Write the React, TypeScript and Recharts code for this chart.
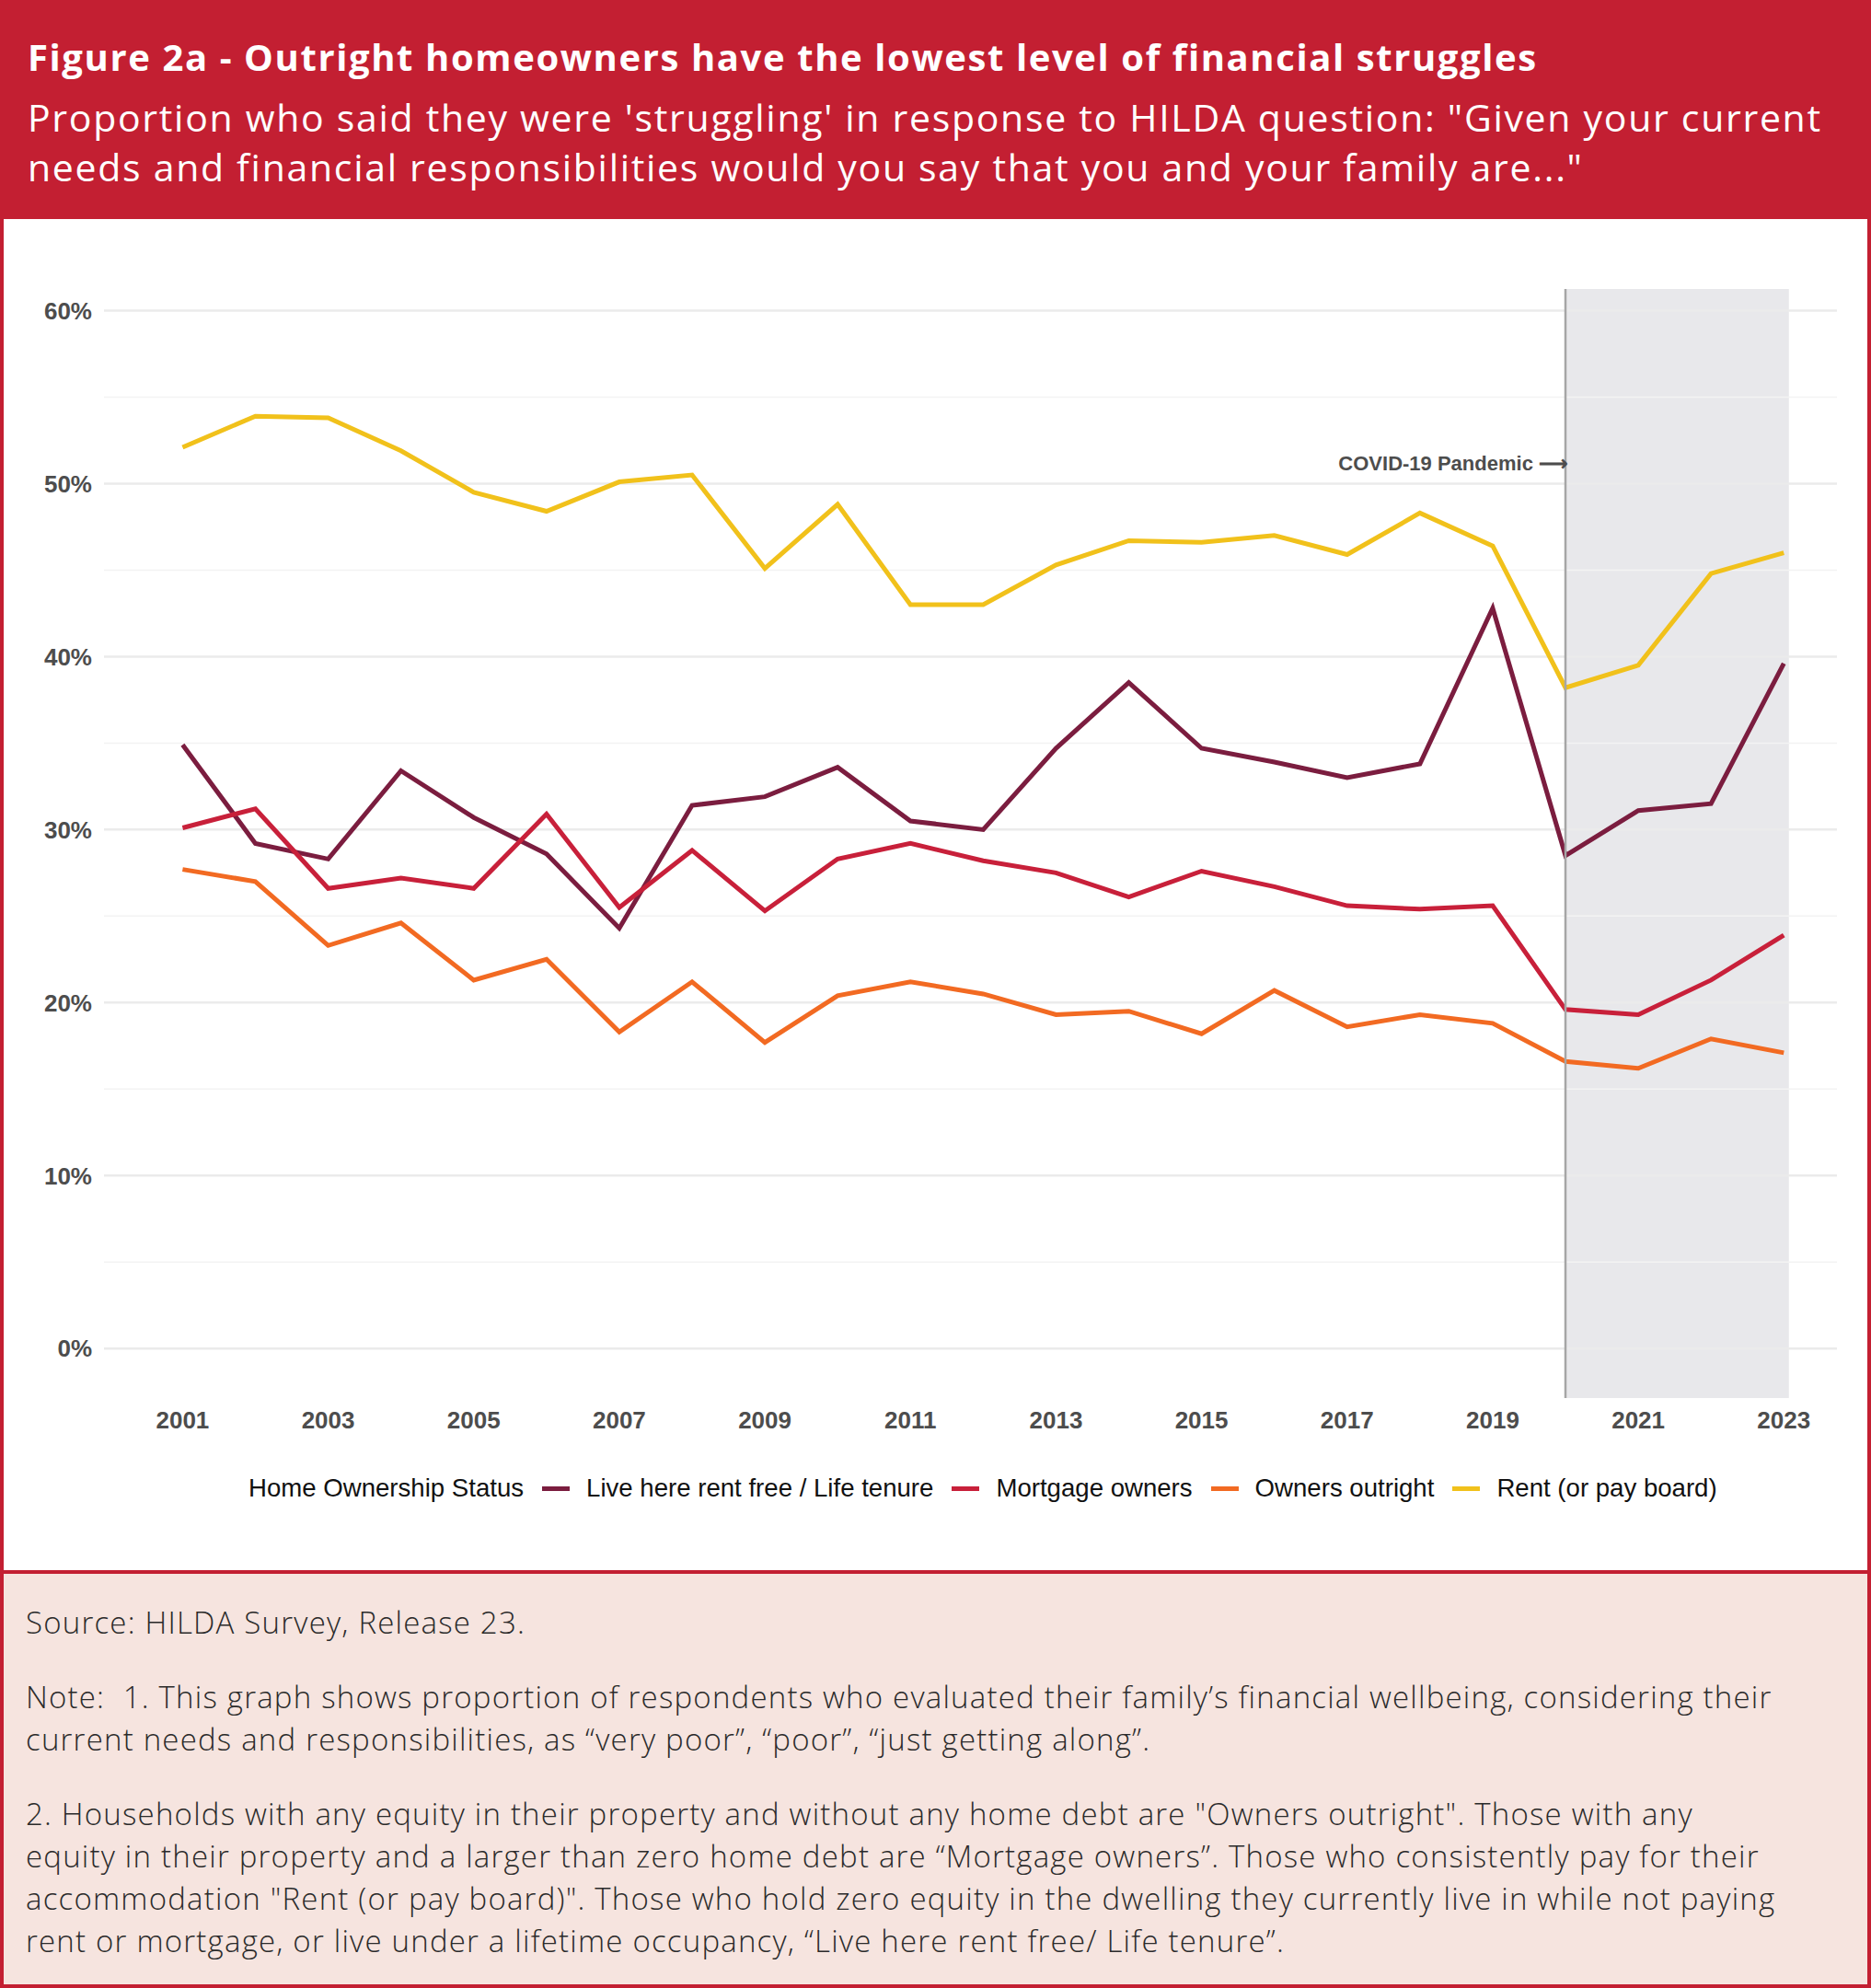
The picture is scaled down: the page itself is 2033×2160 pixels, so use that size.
import { LineChart, Line, XAxis, YAxis, ReferenceArea, ReferenceLine, ReferenceDot } from 'recharts';

const years = [
  2001, 2002, 2003, 2004, 2005, 2006, 2007, 2008, 2009, 2010, 2011, 2012,
  2013, 2014, 2015, 2016, 2017, 2018, 2019, 2020, 2021, 2022, 2023,
];

// % struggling
const rentFree = [34.9, 29.2, 28.3, 33.4, 30.7, 28.6, 24.3, 31.4, 31.9, 33.6, 30.5, 30.0, 34.7, 38.5, 34.7, 33.9, 33.0, 33.8, 42.8, 28.5, 31.1, 31.5, 39.6];
const mortgage = [30.1, 31.2, 26.6, 27.2, 26.6, 30.9, 25.5, 28.8, 25.3, 28.3, 29.2, 28.2, 27.5, 26.1, 27.6, 26.7, 25.6, 25.4, 25.6, 19.6, 19.3, 21.3, 23.9];
const outright = [27.7, 27.0, 23.3, 24.6, 21.3, 22.5, 18.3, 21.2, 17.7, 20.4, 21.2, 20.5, 19.3, 19.5, 18.2, 20.7, 18.6, 19.3, 18.8, 16.6, 16.2, 17.9, 17.1];
const rent = [52.1, 53.9, 53.8, 51.9, 49.5, 48.4, 50.1, 50.5, 45.1, 48.8, 43.0, 43.0, 45.3, 46.7, 46.6, 47.0, 45.9, 48.3, 46.4, 38.2, 39.5, 44.8, 46.0];

const xTicks = [2001, 2003, 2005, 2007, 2009, 2011, 2013, 2015, 2017, 2019, 2021, 2023];
const yTicks = [0, 10, 20, 30, 40, 50, 60];
const yMinor = [5, 15, 25, 35, 45, 55];

const seriesNames = ['Live here rent free / Life tenure', 'Mortgage owners', 'Owners outright', 'Rent (or pay board)'];
const seriesKeys = ['rentFree', 'mortgage', 'outright', 'rent'];
const seriesColors = ['#7b1d3f', '#c8203a', '#f26a22', '#f1c11b'];

const covidStart = 2020;
const covidEnd = 2023.07;
const covidLabelY = 51.2;

const data = years.map((year, i) => ({
  year,
  rentFree: rentFree[i],
  mortgage: mortgage[i],
  outright: outright[i],
  rent: rent[i],
}));

const RED = '#c31f32';
const AXIS_FONT = '"Liberation Sans", Arial, sans-serif';
const TEXT_FONT = '"Open Sans", "Noto Sans", sans-serif';

export default function App() {
  return (
    <div
      style={{
        position: 'absolute',
        left: 0,
        top: 0,
        width: 2033,
        height: 2160,
        boxSizing: 'border-box',
        border: `4px solid ${RED}`,
        borderTop: 'none',
        background: '#fff',
        overflow: 'hidden',
      }}
    >
      {/* header */}
      <div
        style={{
          position: 'absolute',
          left: -4,
          top: 0,
          width: 2033,
          height: 238,
          background: RED,
          color: '#fff',
          fontFamily: TEXT_FONT,
          whiteSpace: 'nowrap',
        }}
      >
        <div style={{ position: 'absolute', left: 30, top: 36, fontSize: 40, lineHeight: '52px', fontWeight: 700, letterSpacing: 1.6 }}>
          Figure 2a - Outright homeowners have the lowest level of financial struggles
        </div>
        <div style={{ position: 'absolute', left: 30, top: 100, fontSize: 41, lineHeight: '54px', fontWeight: 400, letterSpacing: 1.7 }}>
          Proportion who said they were 'struggling' in response to HILDA question: "Given your current
          <br />
          needs and financial responsibilities would you say that you and your family are..."
        </div>
      </div>

      {/* chart */}
      <div style={{ position: 'absolute', left: -4, top: 238 }}>
        <LineChart width={2033} height={1470} data={data} margin={{ top: 76, right: 37, bottom: 139, left: 0 }}>
          {yMinor.map((v) => (
            <ReferenceLine key={`minor-${v}`} y={v} stroke="#f3f3f3" strokeWidth={1.5} />
          ))}
          {yTicks.map((v) => (
            <ReferenceLine key={`major-${v}`} y={v} stroke="#ebebeb" strokeWidth={2.5} />
          ))}
          <XAxis
            dataKey="year"
            type="number"
            domain={[1999.92, 2023.73]}
            ticks={xTicks}
            axisLine={false}
            tickLine={false}
            tickSize={0}
            tickMargin={15}
            height={50}
            tick={{ fill: '#4d4d4d', fontSize: 26, fontWeight: 700, fontFamily: AXIS_FONT }}
          />
          <YAxis
            type="number"
            domain={[-2.86, 61.25]}
            ticks={yTicks}
            tickFormatter={(v) => `${v}%`}
            axisLine={false}
            tickLine={false}
            tickSize={0}
            tickMargin={13}
            width={113}
            tick={{ fill: '#4d4d4d', fontSize: 26, fontWeight: 700, fontFamily: AXIS_FONT }}
          />
          {seriesKeys.map((k, i) => (
            <Line
              key={k}
              dataKey={k}
              name={seriesNames[i]}
              stroke={seriesColors[i]}
              strokeWidth={5}
              dot={false}
              isAnimationActive={false}
            />
          ))}
          <ReferenceArea x1={covidStart} x2={covidEnd} fill="#8e8e99" fillOpacity={0.2} stroke="none" />
          <ReferenceLine x={covidStart} stroke="#a6a6a6" strokeWidth={2.5} />
          <ReferenceDot
            x={covidStart}
            y={covidLabelY}
            r={0}
            fill="none"
            stroke="none"
            label={{
              value: 'COVID-19 Pandemic \u27F6',
              position: 'left',
              offset: -3,
              fill: '#4d4d4d',
              fontSize: 22,
              fontWeight: 700,
              fontFamily: AXIS_FONT,
            }}
          />
        </LineChart>
      </div>

      {/* legend */}
      <div
        style={{
          position: 'absolute',
          left: 266,
          top: 1601,
          height: 32,
          display: 'flex',
          alignItems: 'center',
          fontFamily: AXIS_FONT,
          fontSize: 27.6,
          color: '#111',
          whiteSpace: 'nowrap',
        }}
      >
        <span>Home Ownership Status</span>
        {seriesNames.map((name, i) => (
          <span key={name} style={{ display: 'flex', alignItems: 'center' }}>
            <span style={{ display: 'inline-block', width: 30, height: 5, background: seriesColors[i], marginLeft: 20, marginRight: 18 }} />
            <span>{name}</span>
          </span>
        ))}
      </div>

      {/* footer */}
      <div
        style={{
          position: 'absolute',
          left: -4,
          top: 1706,
          width: 2033,
          height: 460,
          boxSizing: 'border-box',
          borderTop: `4px solid ${RED}`,
          background: '#f6e4df',
          fontFamily: TEXT_FONT,
          fontWeight: 300,
          fontSize: 33,
          letterSpacing: 1.2,
          lineHeight: '46px',
          color: '#2b2b2b',
          whiteSpace: 'nowrap',
        }}
      >
        <div style={{ position: 'absolute', left: 28, top: 30 }}>Source: HILDA Survey, Release 23.</div>
        <div style={{ position: 'absolute', left: 28, top: 111 }}>
          Note:&nbsp; 1. This graph shows proportion of respondents who evaluated their family’s financial wellbeing, considering their
          <br />
          current needs and responsibilities, as “very poor”, “poor”, “just getting along”.
        </div>
        <div style={{ position: 'absolute', left: 28, top: 238 }}>
          2. Households with any equity in their property and without any home debt are "Owners outright". Those with any
          <br />
          equity in their property and a larger than zero home debt are “Mortgage owners”. Those who consistently pay for their
          <br />
          accommodation "Rent (or pay board)". Those who hold zero equity in the dwelling they currently live in while not paying
          <br />
          rent or mortgage, or live under a lifetime occupancy, “Live here rent free/ Life tenure”.
        </div>
      </div>
    </div>
  );
}
